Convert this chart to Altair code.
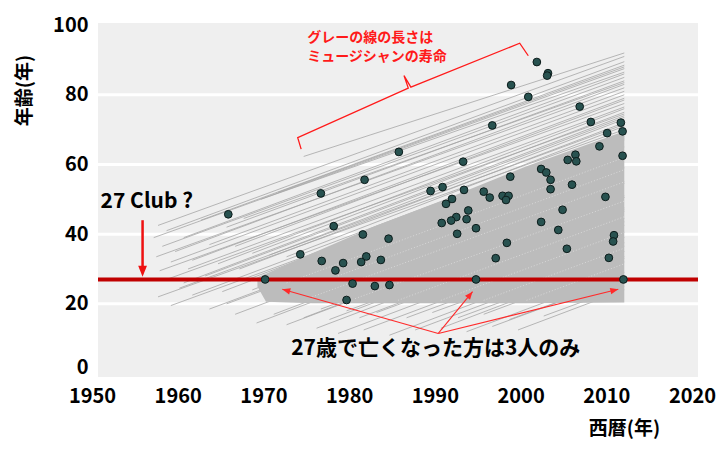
import altair as alt
import pandas as pd

FONT = "Noto Sans CJK JP"

# ---- data ----
death_year = [1965.2, 1969.5, 1976.0, 1981.1, 1985.1, 1977.5, 1980.9, 1983.9, 1973.6, 1976.1,
              1978.6, 1981.3, 1980.7, 1983.0, 1977.7, 1979.7, 1982.3, 1984.0, 1979.0, 1992.6,
              1998.1, 1988.8, 1990.2, 1992.7, 1991.3, 1990.6, 1995.0, 1995.7, 1997.2, 1997.9,
              1997.6, 1993.2, 1993.0, 1991.8, 1991.2, 1990.1, 1994.1, 1991.9, 1997.7, 1996.4,
              2001.7, 2002.3, 2002.8, 2002.8, 2004.8, 2005.7, 2005.8, 2005.3, 2004.2, 2001.7,
              2003.7, 2004.7, 2008.5, 2009.4, 2011.2, 2011.2, 2009.2, 2010.2, 2010.1, 2009.6,
              2011.3, 1994.1, 2001.2, 2002.5, 2002.4, 1998.2, 2000.2, 1996.0, 2006.2, 2007.5,
              2011.0]
death_age = [45.7, 27.0, 51.7, 55.6, 63.6, 42.3, 39.9, 38.7, 34.2, 32.3,
             31.7, 33.6, 32.0, 32.6, 29.6, 25.8, 25.1, 25.4, 21.1, 60.8,
             56.5, 52.4, 53.5, 52.7, 50.1, 48.7, 52.2, 50.5, 51.0, 51.0,
             49.8, 46.8, 44.3, 44.9, 43.9, 43.2, 41.7, 40.1, 37.5, 33.1,
             58.7, 57.7, 55.6, 52.9, 61.3, 62.8, 60.9, 54.2, 47.0, 43.5,
             41.2, 35.8, 65.2, 69.0, 69.5, 62.5, 50.7, 39.7, 37.9, 33.2,
             27.0, 27.0, 89.4, 86.2, 85.5, 82.8, 79.4, 71.2, 76.6, 72.2,
             72.0]

# gray life lines: start (year, age) -> end (year, age)
life_start_year = [1974.0, 1957.0, 1958.0, 1962.0, 1956.5, 1960.0, 1957.5, 1965.0, 1959.0, 1956.8,
                   1963.0, 1958.5, 1961.0, 1966.0, 1957.2, 1960.5, 1964.0, 1968.0, 1958.0, 1962.5,
                   1970.0, 1966.5, 1959.5, 1972.0, 1957.0, 1961.0, 1964.5, 1968.0, 1958.5, 1963.0,
                   1966.0, 1968.5, 1972.0, 1975.5, 1978.0, 1981.0, 1984.0, 1987.0, 1990.0, 1993.0,
                   1996.0, 1999.0, 1970.5, 1974.0, 1977.0, 1980.5, 1960.0, 1967.5, 1969.0, 1971.0,
                   1967.0, 1982.5, 1986.0, 1989.0, 1992.0, 1995.0, 1998.0, 2002.0, 1976.0, 1979.0,
                   1965.0]
life_start_age = [62.3, 42.5, 41.0, 44.0, 39.0, 39.0, 36.5, 42.0, 35.0, 33.5,
                  37.0, 32.0, 32.5, 36.5, 29.5, 30.0, 31.5, 34.5, 27.0, 28.0,
                  34.0, 30.0, 24.5, 33.5, 22.0, 22.5, 23.5, 24.0, 19.5, 18.5,
                  17.0, 14.5, 14.0, 13.0, 11.5, 12.5, 11.0, 12.5, 13.0, 12.0,
                  13.5, 12.5, 17.0, 16.0, 15.5, 16.0, 26.0, 27.0, 50.0, 52.0,
                  44.5, 17.5, 16.0, 17.5, 16.0, 17.0, 15.5, 16.5, 18.5, 18.0,
                  20.0]
life_end_year = [2011.4, 2011.4, 2011.4, 2011.4, 2011.4, 2011.4, 2011.4, 2011.4, 2011.4, 2011.4,
                 2011.4, 2011.4, 2011.4, 2011.4, 2011.4, 2011.4, 2011.4, 2011.4, 2011.4, 2011.4,
                 2011.4, 2011.4, 2011.4, 2011.4, 2011.4, 2011.4, 2011.4, 2011.4, 2011.4, 2011.4,
                 2011.4, 2011.4, 2011.4, 2011.4, 2011.4, 2011.4, 2011.4, 2011.4, 2011.4, 2011.4,
                 2011.4, 2011.4, 2011.4, 2011.4, 2011.4, 2011.4, 2011.4, 2011.4, 2011.4, 2011.4,
                 2011.4, 2011.4, 2011.4, 2011.4, 2011.4, 2011.4, 2011.4, 2011.4, 2011.4, 2011.4,
                 2011.4]
life_end_age = [92.0, 91.0, 89.5, 88.5, 87.5, 86.0, 85.0, 84.0, 83.0, 82.0,
                81.0, 80.0, 79.0, 78.5, 77.5, 76.5, 76.0, 75.0, 74.5, 73.5,
                73.0, 72.0, 71.5, 71.0, 70.0, 69.0, 67.5, 65.0, 67.0, 63.0,
                59.0, 54.5, 50.5, 46.5, 42.5, 40.5, 36.5, 35.0, 33.0, 29.0,
                27.5, 24.0, 55.0, 51.0, 47.5, 44.5, 74.0, 68.0, 86.5, 88.0,
                83.5, 43.5, 39.0, 37.5, 33.5, 32.0, 27.5, 25.0, 50.5, 47.0,
                62.0]

# gaps between the densely packed lines
gap_start_year = [1975.0, 1980.0, 1985.0, 1990.0, 1995.0, 1972.0, 2000.0, 1978.0]
gap_start_age = [22.0, 21.5, 21.0, 21.0, 21.0, 26.0, 21.0, 28.0]
gap_end_year = [2011.4, 2011.4, 2011.4, 2011.4, 2011.4, 2011.4, 2011.4, 2011.4]
gap_end_age = [55.0, 49.5, 45.0, 40.5, 36.0, 62.0, 31.5, 58.5]

# densely overlapping band of life lines
dense_year = [1968.6, 1969.6, 1975.0, 1982.5, 1990.0, 2000.0, 2011.4]
dense_top = [27.6, 28.6, 34.5, 42.5, 49.5, 59.5, 69.5]
dense_bottom = [25.0, 20.6, 20.2, 20.2, 20.2, 20.2, 20.4]

grid_ages = [20, 40, 60, 80]
club_age = [27]
x_ticks = [1950, 1960, 1970, 1980, 1990, 2000, 2010, 2020]
y_ticks = [0, 20, 40, 60, 80, 100]

# ---- scales / axes ----
xscale = alt.Scale(domain=[1950, 2020], nice=False, zero=False)
yscale = alt.Scale(domain=[-1, 100.6], nice=False, zero=False)

xaxis = alt.Axis(values=x_ticks, format="d", title="西暦(年)", grid=False, ticks=False, domain=False,
                 labelFont=FONT, labelFontSize=20, labelFontWeight="bold", labelColor="black",
                 labelPadding=9, labelOffset=-6, labelFlush=False, labelOverlap=False,
                 titleFont=FONT, titleFontSize=19, titleFontWeight="bold", titleColor="black",
                 titleX=526, titleY=51, titleAlign="center", titleBaseline="middle")
yaxis = alt.Axis(values=y_ticks, format="d", title="年齢(年)", grid=False, ticks=False, domain=False,
                 labelFont=FONT, labelFontSize=20, labelFontWeight="bold", labelColor="black",
                 labelPadding=10, labelFlush=False, labelOverlap=False,
                 labelBaseline={"condition": {"test": "datum.value == 0", "value": "alphabetic"},
                                "value": "middle"},
                 titleFont=FONT, titleFontSize=19, titleFontWeight="bold", titleColor="black",
                 titleAngle=270, titleX=-74, titleY=67, titleAlign="center", titleBaseline="middle")


def X(f):
    return alt.X(f, type="quantitative", scale=xscale, axis=xaxis)


def Y(f):
    return alt.Y(f, type="quantitative", scale=yscale, axis=yaxis)


deaths = pd.DataFrame({"year": death_year, "age": death_age})
lives = pd.DataFrame({"x1": life_start_year, "y1": life_start_age, "x2": life_end_year, "y2": life_end_age})
gaps = pd.DataFrame({"x1": gap_start_year, "y1": gap_start_age, "x2": gap_end_year, "y2": gap_end_age})
dense = pd.DataFrame({"year": dense_year, "top": dense_top, "bottom": dense_bottom})
grid = pd.DataFrame({"age": grid_ages})
club = pd.DataFrame({"age": club_age})

grid_layer = alt.Chart(grid).mark_rule(color="white", strokeWidth=3).encode(y=Y("age"))

life_layer = alt.Chart(lives).mark_rule(color="#a6a6a6", strokeWidth=0.8).encode(
    x=X("x1"), y=Y("y1"), x2="x2", y2="y2")

dense_layer = alt.Chart(dense).mark_area(color="#bcbcbc", opacity=1).encode(
    x=X("year"), y=Y("top"), y2="bottom")

gap_layer = alt.Chart(gaps).mark_rule(color="#dedede", strokeWidth=0.8, strokeDash=[1, 2]).encode(
    x=X("x1"), y=Y("y1"), x2="x2", y2="y2")

club_layer = alt.Chart(club).mark_rule(color="#c00000", strokeWidth=4).encode(y=Y("age"))

point_layer = alt.Chart(deaths).mark_circle(size=60, color="#285250", opacity=1,
                                            stroke="#0c1c1b", strokeWidth=1).encode(
    x=X("year"), y=Y("age"))

# ---- annotations ----
bracket = pd.DataFrame({
    "x": [1973.7, 1973.3, 1986.2, 1985.7, 1986.5, 1999.2, 2000.2],
    "y": [64.4, 67.7, 81.9, 85.5, 82.2, 94.8, 91.2],
    "o": [0, 1, 2, 3, 4, 5, 6],
})
bracket_layer = alt.Chart(bracket).mark_line(color="#ff1a1a", strokeWidth=1.3).encode(
    x=X("x"), y=Y("y"), order="o:Q")

bracket_text = pd.DataFrame({"x": [1974.4, 1974.4], "y": [96.3, 90.8],
                             "t": ["グレーの線の長さは", "ミュージシャンの寿命"]})
bracket_text_layer = alt.Chart(bracket_text).mark_text(
    font=FONT, fontSize=14, fontWeight="bold", color="#ff1a1a", align="left", baseline="middle"
).encode(x=X("x"), y=Y("y"), text="t:N")

club_text = pd.DataFrame({"x": [1950.3], "y": [49.3], "t": ["27 Club ?"]})
club_text_layer = alt.Chart(club_text).mark_text(
    font=FONT, fontSize=21, fontWeight="bold", color="black", align="left", baseline="middle"
).encode(x=X("x"), y=Y("y"), text="t:N")

note_text = pd.DataFrame({"x": [1989.4], "y": [6.95], "t": ["27歳で亡くなった方は3人のみ"]})
note_text_layer = alt.Chart(note_text).mark_text(
    font=FONT, fontSize=21, fontWeight="bold", color="black", align="center", baseline="middle"
).encode(x=X("x"), y=Y("y"), text="t:N")

club_arrow = pd.DataFrame({"x1": [1955.2], "y1": [44.0], "x2": [1955.2], "y2": [30.0]})
club_arrow_layer = alt.Chart(club_arrow).mark_rule(color="#ee1111", strokeWidth=2.5).encode(
    x=X("x1"), y=Y("y1"), x2="x2", y2="y2")
club_head = pd.DataFrame({"x": [1955.2], "y": [27.8], "a": [180]})
club_head_layer = alt.Chart(club_head).mark_point(
    shape="M0,0L-0.8,2L0.8,2Z", filled=True, color="#ee1111", size=121, opacity=1, strokeWidth=0
).encode(x=X("x"), y=Y("y"), angle=alt.Angle("a:Q", scale=None))

note_arrows = pd.DataFrame({
    "x1": [1989.7, 1989.7, 1989.7], "y1": [11.5, 11.5, 11.5],
    "x2": [1971.5, 1993.7, 2010.7], "y2": [24.2, 23.5, 24.2],
    "a": [285.7, 39.3, 76.3],
})
note_arrow_layer = alt.Chart(note_arrows).mark_rule(color="#ff2a2a", strokeWidth=1.1).encode(
    x=X("x1"), y=Y("y1"), x2="x2", y2="y2")
note_head_layer = alt.Chart(note_arrows).mark_point(
    shape="M0,0L-0.8,2L0.8,2Z", filled=True, color="#ff2a2a", size=64, opacity=1, strokeWidth=0
).encode(x=X("x2"), y=Y("y2"), angle=alt.Angle("a:Q", scale=None))

chart = alt.layer(
    grid_layer, life_layer, dense_layer, gap_layer, club_layer, point_layer,
    bracket_layer, bracket_text_layer, club_text_layer, note_text_layer,
    club_arrow_layer, club_head_layer, note_arrow_layer, note_head_layer,
).properties(
    width=600, height=354,
    autosize=alt.AutoSizeParams(type="none"),
    padding={"left": 90, "top": 15, "right": 19, "bottom": 70},
).configure_view(fill="#efefef", strokeWidth=0)

chart.save("out.html", embed_options={"renderer": "svg", "actions": False})
